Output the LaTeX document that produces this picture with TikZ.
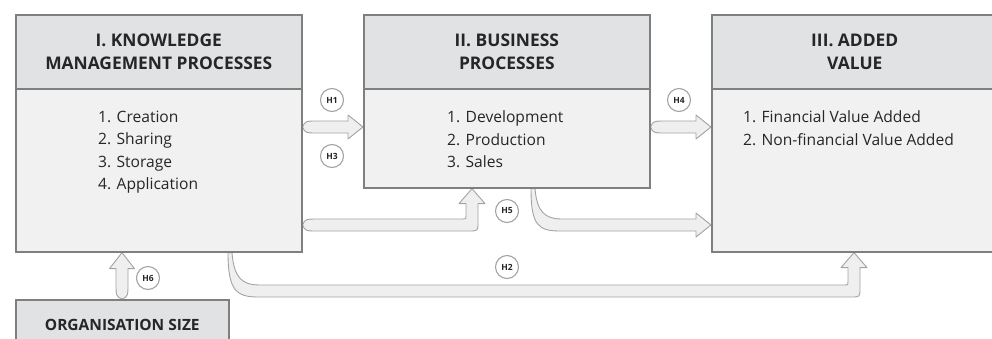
\documentclass[tikz,border=0pt]{standalone}
\usepackage{fontspec}
\setmainfont{Open Sans}
\usetikzlibrary{calc,backgrounds}
\definecolor{boxline}{HTML}{7F7F7F}
\definecolor{headfill}{HTML}{E1E2E4}
\definecolor{bodyfill}{HTML}{F1F1F1}
\definecolor{arrline}{HTML}{A3A3A3}
\definecolor{arrfill}{HTML}{EFEFEF}
\definecolor{txt}{HTML}{262626}
\newcommand\hblockarrow[2]{%
  \path[blockarrow] let \p1=(#1), \p2=(#2) in
    (\x1,\y1) .. controls (\x1+2pt,\y1+6pt) and (\x1+5pt,\y1+6pt) .. (\x1+12pt,\y1+6pt)
    -- (\x2-15pt,\y1+6pt) -- (\x2-15pt,\y1+12pt) -- (\x2,\y1) -- (\x2-15pt,\y1-12pt)
    -- (\x2-15pt,\y1-6pt) -- (\x1+12pt,\y1-6pt)
    .. controls (\x1+5pt,\y1-6pt) and (\x1+2pt,\y1-6pt) .. cycle;}
\begin{document}
\begin{tikzpicture}[x=1pt,y=-1pt,
  headbox/.style={draw=boxline, line width=1.6pt, fill=headfill, inner sep=0pt, anchor=north west, align=center, font=\fontsize{17.4}{23}\selectfont\bfseries, text=txt},
  bodybox/.style={draw=boxline, line width=1.6pt, fill=bodyfill, inner sep=0pt, anchor=north west},
  items/.style={anchor=north west, inner sep=0pt, align=left, font=\fontsize{15.6}{22.5}\selectfont, text=txt},
  hyp/.style={circle, draw=arrline, line width=1.1pt, fill=white, minimum size=23pt, inner sep=0pt, font=\fontsize{8.5}{9}\selectfont\bfseries, text=txt},
  blockarrow/.style={draw=arrline, line width=0.9pt, fill=arrfill, line join=round}]
\useasboundingbox (0,0) rectangle (992,338);
% boxes
\node[bodybox, minimum width=286pt, minimum height=163pt] (b1) at (15,88) {};
\node[headbox, minimum width=286pt, minimum height=74pt] (t1) at (15,14) {I. KNOWLEDGE\\MANAGEMENT PROCESSES};
\node[bodybox, minimum width=286pt, minimum height=99pt] (b2) at (363,88) {};
\node[headbox, minimum width=286pt, minimum height=74pt] (t2) at (363,14) {II. BUSINESS\\PROCESSES};
\node[bodybox, minimum width=286pt, minimum height=163pt] (b3) at (711,88) {};
\node[headbox, minimum width=286pt, minimum height=74pt] (t3) at (711,14) {III. ADDED\\VALUE};
\node[headbox, minimum width=213pt, minimum height=50pt, font=\fontsize{15.5}{18}\selectfont\bfseries] (org) at (15,299) {ORGANISATION SIZE};
% lists
\node[items] (l1) at (98,110.5) {1. Creation\\2. Sharing\\3. Storage\\4. Application};
\node[items] (l2) at (447,110.5) {1. Development\\2. Production\\3. Sales};
\node[items] (l3) at (743,110.5) {1. Financial Value Added\\2. Non-financial Value Added};
% helper coordinates
\coordinate (yA) at (0,127);
\coordinate (yB) at (0,225);
\coordinate (yC) at (0,291);
\coordinate (xH5) at (472,0);
\coordinate (xS) at (533,0);
\coordinate (xH2s) at (230,0);
\coordinate (xH2e) at (854,0);
\coordinate (xH6) at (122,0);
% arrows
\begin{scope}[on background layer]
\hblockarrow{b1.east |- yA}{b2.west |- yA}
\hblockarrow{b2.east |- yA}{b3.west |- yA}
% H5 elbow
\path[blockarrow] let \p1=(b1.east |- yB), \p2=(xH5 |- b2.south) in
  (\x1,\y1) .. controls (\x1+2pt,\y1+6pt) and (\x1+5pt,\y1+6pt) .. (\x1+12pt,\y1+6pt)
  -- (\x2-9pt,\y1+6pt) .. controls (\x2-6pt,\y1+6pt) .. (\x2-6pt,\y1+9pt)
  -- (\x2-6pt,\y2-15pt) -- (\x2-13pt,\y2-15pt) -- (\x2,\y2) -- (\x2+13pt,\y2-15pt)
  -- (\x2+6pt,\y2-15pt) -- (\x2+6pt,\y1+3pt) .. controls (\x2+6pt,\y1-6pt) .. (\x2-3pt,\y1-6pt)
  -- (\x1+12pt,\y1-6pt) .. controls (\x1+5pt,\y1-6pt) and (\x1+2pt,\y1-6pt) .. cycle;
% II -> III swoosh
\path[blockarrow] let \p1=(xS |- b2.south), \p2=(b3.west |- yB) in
  (\x1-2pt,\y1) .. controls (\x1-2pt,\y2) and (\x1+5pt,\y2-6pt) .. (\x1+27pt,\y2-6pt)
  -- (\x2-15pt,\y2-6pt) -- (\x2-15pt,\y2-12pt) -- (\x2,\y2) -- (\x2-15pt,\y2+12pt)
  -- (\x2-15pt,\y2+6pt) -- (\x1+29pt,\y2+6pt)
  .. controls (\x1+12pt,\y2+6pt) and (\x1+4pt,\y2+13pt) .. (\x1+2pt,\y1) -- cycle;
% H2 swoosh
\path[blockarrow] let \p1=(xH2s |- b1.south), \p2=(xH2e |- b3.south), \p3=(yC) in
  (\x1-2pt,\y1) .. controls (\x1-2pt,\y3+1pt) and (\x1+6pt,\y3-6pt) .. (\x1+28pt,\y3-6pt)
  -- (\x2-3pt,\y3-6pt) .. controls (\x2+6pt,\y3-6pt) .. (\x2+6pt,\y3+3pt)
  -- (\x2+6pt,\y2-15pt) -- (\x2+13pt,\y2-15pt) -- (\x2,\y2) -- (\x2-13pt,\y2-15pt)
  -- (\x2-6pt,\y2-15pt) -- (\x2-6pt,\y3+9pt) .. controls (\x2-6pt,\y3+6pt) .. (\x2-9pt,\y3+6pt)
  -- (\x1+30pt,\y3+6pt) .. controls (\x1+12pt,\y3+6pt) and (\x1+4pt,\y3+13pt) .. (\x1+2pt,\y1) -- cycle;
% H6 vertical
\path[blockarrow] let \p1=(xH6 |- org.north), \p2=(xH6 |- b1.south) in
  (\x1,\y1) .. controls (\x1-6pt,\y1+2pt) and (\x1-6pt,\y1+5pt) .. (\x1-6pt,\y1+12pt)
  -- (\x1-6pt,\y2-16pt) -- (\x1-12.5pt,\y2-16pt) -- (\x2,\y2) -- (\x1+12.5pt,\y2-16pt)
  -- (\x1+6pt,\y2-16pt) -- (\x1+6pt,\y1+12pt)
  .. controls (\x1+6pt,\y1+5pt) and (\x1+6pt,\y1+2pt) .. cycle;
\end{scope}
% hypothesis labels
\node[hyp] (c1) at (332,100) {H1};
\node[hyp] (c3) at (332,156) {H3};
\node[hyp] (c4) at (679,100) {H4};
\node[hyp] (c5) at (507,211) {H5};
\node[hyp] (c2) at (507,267) {H2};
\node[hyp] (c6) at (148,278) {H6};
\end{tikzpicture}
\end{document}
